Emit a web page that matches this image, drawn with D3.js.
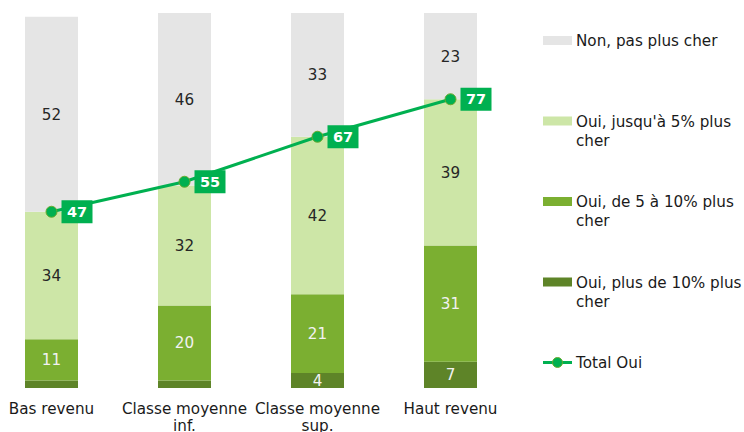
<!DOCTYPE html>
<html>
<head>
<meta charset="utf-8">
<script src="https://cdn.jsdelivr.net/npm/d3@7"></script>
<style>
  body { margin: 0; background: #fff; }
  svg { font-family: Verdana, "DejaVu Sans", sans-serif; }
</style>
</head>
<body>
<div class="container"></div>
<script>
var categories = [['Bas revenu'], ['Classe moyenne', 'inf.'], ['Classe moyenne', 'sup.'], ['Haut revenu']];
var seriesNames = ['Non, pas plus cher', "Oui, jusqu'à 5% plus cher", 'Oui, de 5 à 10% plus cher', 'Oui, plus de 10% plus cher'];
var nonPlusCher = [52, 46, 33, 23];
var ouiJusqua5 = [34, 32, 42, 39];
var oui5a10 = [11, 20, 21, 31];
var ouiPlus10 = [2, 2, 4, 7];
var totalOui = [47, 55, 67, 77];

var colors = {
  non: '#e5e5e5',
  oui5: '#cde6a7',
  oui510: '#7baf31',
  oui10: '#5e8428',
  line: '#00b050'
};

var width = 744, height = 432;
var fontSize = '15.2px';

var rows = categories.map(function (c, i) {
  return { cat: i, oui10: ouiPlus10[i], oui510: oui5a10[i], oui5: ouiJusqua5[i], non: nonPlusCher[i] };
});

var keys = ['oui10', 'oui510', 'oui5', 'non'];
var stack = d3.stack().keys(keys)(rows);

var x = d3.scaleBand()
  .domain(d3.range(categories.length))
  .range([-15, 517])
  .paddingInner(80 / 133)
  .paddingOuter(40 / 133);

var y = d3.scaleLinear().domain([0, 100]).range([388, 13]);

var svg = d3.select('.container').append('svg')
  .attr('width', width)
  .attr('height', height);

// bars
var layers = svg.append('g').selectAll('g')
  .data(stack)
  .enter().append('g')
    .attr('fill', function (d) { return colors[d.key]; });

layers.selectAll('rect')
  .data(function (d) { return d; })
  .enter().append('rect')
    .attr('x', function (d, i) { return x(i); })
    .attr('width', x.bandwidth())
    .attr('y', function (d) { return y(d[1]); })
    .attr('height', function (d) { return y(d[0]) - y(d[1]); });

// value labels inside the segments
layers.each(function (s) {
  var light = s.key === 'oui510' || s.key === 'oui10';
  d3.select(this).selectAll('text')
    .data(s.filter(function (d) { return d[1] - d[0] >= 4; }))
    .enter().append('text')
      .attr('x', function (d) { return x(d.data.cat) + x.bandwidth() / 2; })
      .attr('y', function (d) { return (y(d[0]) + y(d[1])) / 2; })
      .attr('dy', '0.36em')
      .attr('text-anchor', 'middle')
      .attr('font-size', fontSize)
      .attr('fill', light ? '#f2f2f2' : '#262626')
      .text(function (d) { return d[1] - d[0]; });
});

// total line
var cx = function (d, i) { return x(i) + x.bandwidth() / 2; };
svg.append('path')
  .datum(totalOui)
  .attr('fill', 'none')
  .attr('stroke', colors.line)
  .attr('stroke-width', 3)
  .attr('d', d3.line().x(cx).y(function (d) { return y(d); }));

svg.append('g').selectAll('circle')
  .data(totalOui)
  .enter().append('circle')
    .attr('cx', cx)
    .attr('cy', function (d) { return y(d); })
    .attr('r', 5.5)
    .attr('fill', colors.line)
    .attr('stroke', '#6aab2e')
    .attr('stroke-width', 1);

var tags = svg.append('g').selectAll('g')
  .data(totalOui)
  .enter().append('g')
    .attr('transform', function (d, i) { return 'translate(' + (cx(d, i) + 10) + ',' + y(d) + ')'; });
tags.append('rect')
  .attr('x', 0).attr('y', -11.5)
  .attr('width', 31).attr('height', 23)
  .attr('fill', colors.line);
tags.append('text')
  .attr('x', 15.5).attr('dy', '0.36em')
  .attr('text-anchor', 'middle')
  .attr('font-size', '14.5px')
  .attr('font-weight', 'bold')
  .attr('fill', '#fff')
  .text(function (d) { return d; });

// category labels
var catLabels = svg.append('g').selectAll('text')
  .data(categories)
  .enter().append('text')
    .attr('text-anchor', 'middle')
    .attr('font-size', fontSize)
    .attr('fill', '#1a1a1a')
    .attr('x', function (d, i) { return x(i) + x.bandwidth() / 2; })
    .attr('y', 414);
catLabels.selectAll('tspan')
  .data(function (d) { return d; })
  .enter().append('tspan')
    .attr('x', function () { return d3.select(this.parentNode).attr('x'); })
    .attr('dy', function (d, i) { return i ? 17 : 0; })
    .text(function (d) { return d; });

// legend
var legendItems = [
  { lines: ['Non, pas plus cher'], color: colors.non },
  { lines: ["Oui, jusqu'à 5% plus", 'cher'], color: colors.oui5 },
  { lines: ['Oui, de 5 à 10% plus', 'cher'], color: colors.oui510 },
  { lines: ['Oui, plus de 10% plus', 'cher'], color: colors.oui10 },
  { lines: ['Total Oui'], line: true }
];

var legend = svg.append('g').selectAll('g')
  .data(legendItems)
  .enter().append('g')
    .attr('transform', function (d, i) { return 'translate(543,' + (40.5 + i * 80.5) + ')'; });

legend.filter(function (d) { return !d.line; }).append('rect')
  .attr('x', 0).attr('y', -4.5)
  .attr('width', 29).attr('height', 9)
  .attr('fill', function (d) { return d.color; });

var lineItem = legend.filter(function (d) { return d.line; });
lineItem.append('line')
  .attr('x1', 0).attr('x2', 29)
  .attr('stroke', colors.line).attr('stroke-width', 3);
lineItem.append('circle')
  .attr('cx', 14.5).attr('r', 5)
  .attr('fill', colors.line)
  .attr('stroke', '#6aab2e');

legend.append('text')
  .attr('font-size', fontSize)
  .attr('fill', '#1a1a1a')
  .attr('y', 5.5)
  .selectAll('tspan')
  .data(function (d) { return d.lines; })
  .enter().append('tspan')
    .attr('x', 33)
    .attr('dy', function (d, i) { return i ? 19 : 0; })
    .text(function (d) { return d; });
</script>
</body>
</html>
